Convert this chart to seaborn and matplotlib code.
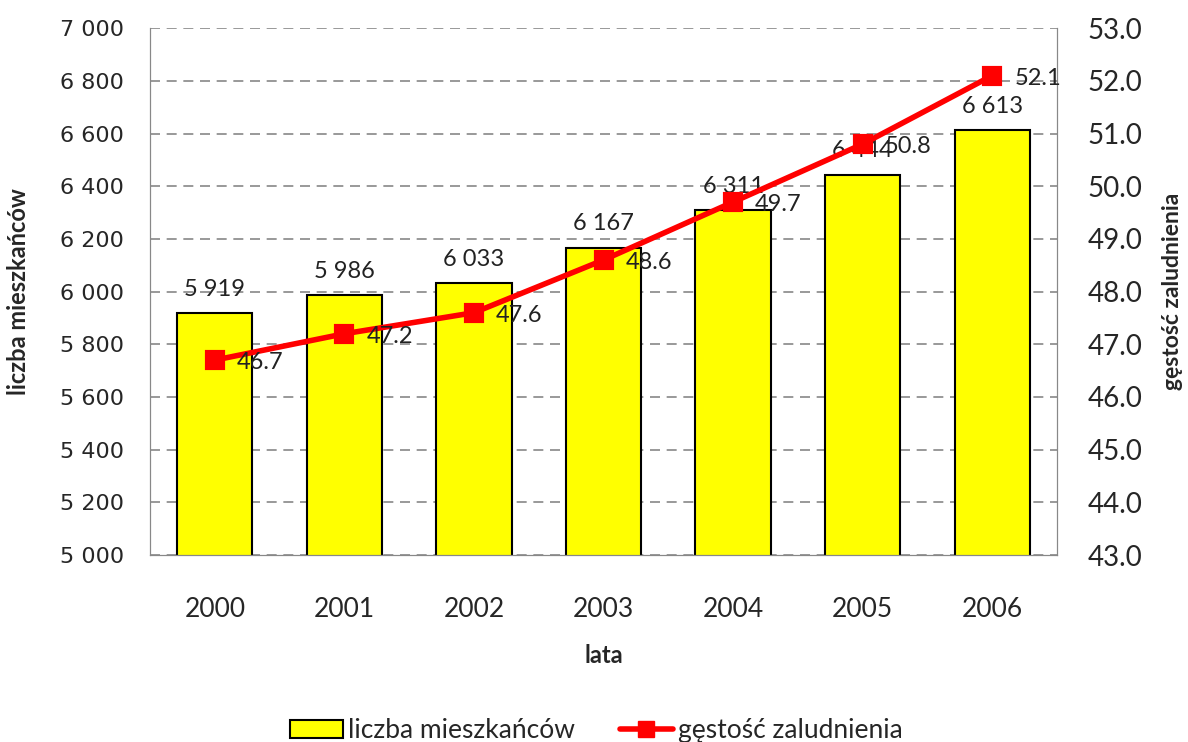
import numpy as np
import pandas as pd
import seaborn as sns
import matplotlib
matplotlib.use('Agg')
import matplotlib.pyplot as plt
from matplotlib.ticker import FuncFormatter
from matplotlib.lines import Line2D
from matplotlib.patches import Patch

years = ['2000', '2001', '2002', '2003', '2004', '2005', '2006']
population = [5919, 5986, 6033, 6167, 6311, 6444, 6613]
density = [46.7, 47.2, 47.6, 48.6, 49.7, 50.8, 52.1]

df = pd.DataFrame({'lata': years, 'pop': population, 'dens': density})

sns.set_style('white')
plt.rcParams['font.family'] = ['DejaVu Sans']

fig = plt.figure(figsize=(11.88, 7.42), dpi=100)
ax = fig.add_axes([0.1263, 0.252, 0.7634, 0.710])

sns.barplot(data=df, x='lata', y='pop', color='#FFFF00', edgecolor='black',
            linewidth=1.5, width=0.58, saturation=1, ax=ax)
ax.set_ylim(5000, 7000)
ax.set_yticks(np.arange(5000, 7001, 200))
ax.yaxis.set_major_formatter(FuncFormatter(lambda v, p: f'{int(v):,}'.replace(',', ' ')))
ax.tick_params(axis='y', labelsize=16, length=0, pad=19)
ax.tick_params(axis='x', labelsize=19, length=0, pad=30)
for lab in ax.get_xticklabels():
    lab.set_family('Lato')
ax.grid(axis='y', color='#888888', linestyle=(0, (6, 4)), linewidth=1.2)
ax.set_axisbelow(True)
for s in ['left', 'bottom', 'right']:
    ax.spines[s].set_color('#888888')
ax.spines['top'].set_visible(False)
ax.set_xlabel('lata', fontsize=17, fontweight='bold', family='Lato', labelpad=16)
ax.set_ylabel('liczba mieszkańców', fontsize=17, fontweight='bold', family='Lato',
              va='center')
ax.yaxis.set_label_coords(-0.1445, 0.5)

for i, v in enumerate(population):
    ax.text(i, v + 50, f'{v:,}'.replace(',', ' '), ha='center', va='bottom',
            fontsize=17, family='Lato', color='#222222', zorder=10)

ax2 = ax.twinx()
sns.pointplot(data=df, x='lata', y='dens', color='#FF0000', markers='s',
              markersize=11, linewidth=4, ax=ax2)
ax2.set_ylim(43, 53)
ax2.set_yticks(np.arange(43, 53.1, 1))
ax2.yaxis.set_major_formatter(FuncFormatter(lambda v, p: f'{v:.1f}'))
ax2.tick_params(axis='y', labelsize=20, length=0, pad=22)
for lab in ax2.get_yticklabels():
    lab.set_family('Lato')
ax2.spines['top'].set_visible(False)
for s in ['left', 'bottom', 'right']:
    ax2.spines[s].set_color('#888888')
ax2.set_ylabel('gęstość zaludnienia', fontsize=16.5, fontweight='bold', family='Lato',
               rotation=90, va='center', ha='center')
ax2.yaxis.set_label_coords(1.127, 0.5)
ax2.set_xlabel('')

for i, v in enumerate(density):
    ax2.text(i + 0.17, v - 0.05, f'{v:.1f}', ha='left', va='center',
             fontsize=17, family='Lato', color='#222222', zorder=10)

handles = [Patch(facecolor='#FFFF00', edgecolor='black', linewidth=1.5),
           Line2D([0], [0], color='#FF0000', linewidth=4, marker='s', markersize=11)]
fig.legend(handles, ['liczba mieszkańców', 'gęstość zaludnienia'], loc='center',
           bbox_to_anchor=(0.502, 0.015), ncol=2, frameon=False, columnspacing=1.7,
           handlelength=2.0, handletextpad=0.2, prop={'family': 'Lato', 'size': 19})

fig.savefig('out.png', dpi=100)
